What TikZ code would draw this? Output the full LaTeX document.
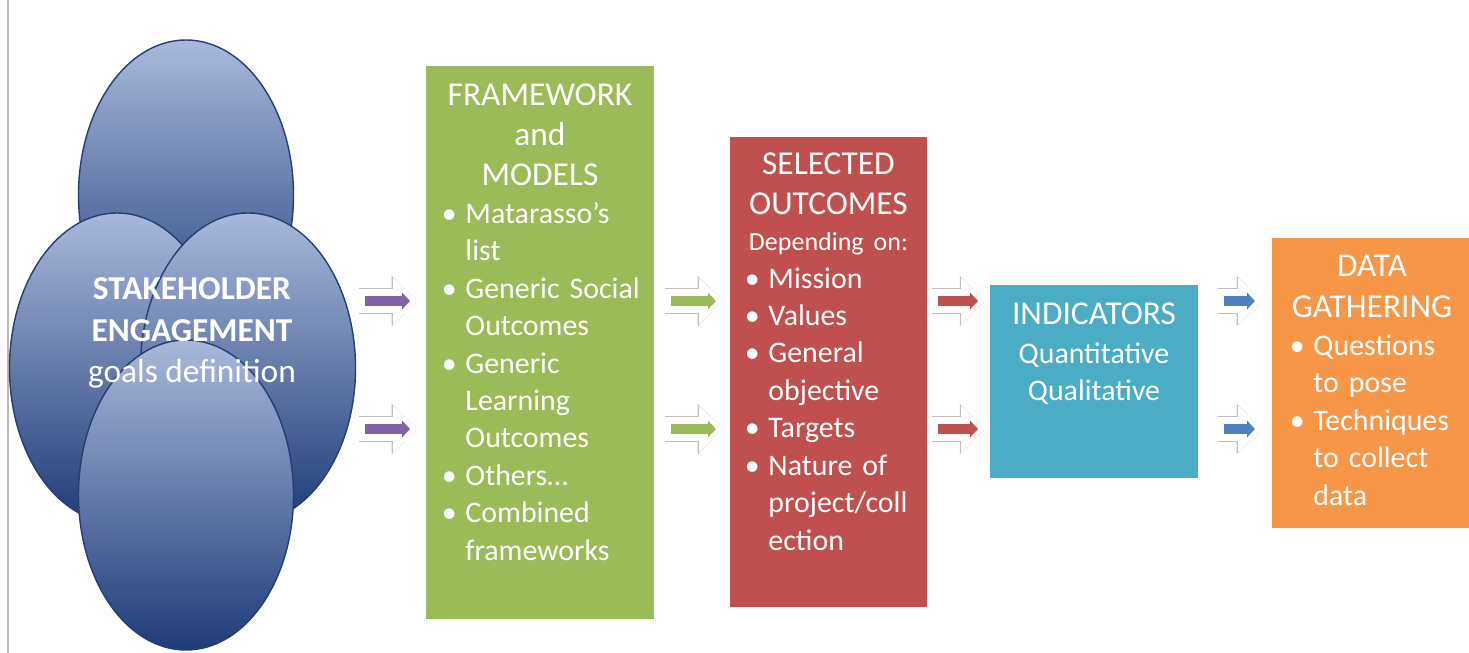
\documentclass[tikz,border=0pt]{standalone}
\usepackage{fontspec}
\setmainfont{Carlito}
\usepackage{tikz}
\usetikzlibrary{shapes,arrows,arrows.meta,positioning,shadows}

\definecolor{fwgreen}{HTML}{9BBB59}
\definecolor{sored}{HTML}{C0504D}
\definecolor{indblue}{HTML}{4BACC6}
\definecolor{dgorange}{HTML}{F79646}
\definecolor{arpurple}{HTML}{8064A2}
\definecolor{arblue}{HTML}{4F81BD}
\definecolor{blobtop}{HTML}{A9B8DC}
\definecolor{blobbot}{HTML}{1F3C78}
\definecolor{blobline}{HTML}{243F73}

% title size and bullet line with hanging indent
\newcommand{\ttl}{\fontsize{19}{23}\selectfont}
\newcommand{\bul}[1]{\par\noindent\hangindent=14.5pt\hangafter=1\makebox[14.5pt][l]{\hspace{1pt}\textbullet}{\let\\\newline #1}\par}

% block arrow: colour, start gap, end gap
\tikzset{blk/.style n args={3}{draw=#1, line width=5.7pt,
    shorten <=#2+3.4pt, shorten >=#3+4pt,
    -{Triangle[length=4.5pt,width=9.5pt,line width=0pt]},
    preaction={draw=gray!50, line width=15pt, shorten <=#2, shorten >=#3,
      -{Triangle[length=14.4pt,width=28.6pt,line width=0pt]}},
    preaction={draw=white, line width=13.6pt, shorten <=#2, shorten >=#3,
      -{Triangle[length=13.6pt,width=26.6pt,line width=0pt]}}}}

\begin{document}
\begin{tikzpicture}[x=0.2mm, y=-0.2mm, node distance=4mm, >=latex']
  \tikzstyle{blob} = [ellipse, draw=blobline, line width=0.8pt, top color=blobtop, bottom color=blobbot, minimum width=43mm, minimum height=62mm, inner sep=0pt]
  \tikzstyle{panel} = [draw=white, line width=3.4pt, outer sep=0pt, inner sep=0pt, drop shadow={shadow xshift=0.7pt, shadow yshift=-1pt, opacity=0.3}]
  \tikzstyle{txt} = [text=white, inner sep=0pt, font=\fontsize{17}{21.3}\selectfont]
  \tikzstyle{lst} = [txt, execute at begin node={\raggedright\hyphenpenalty=10000\hfuzz=20pt}]
  \useasboundingbox (0,0) rectangle (1469,653);
  \draw[gray!55, line width=0.8pt] (8,0) -- (8,653);

  % stakeholder ellipses
  \node[blob] (etop) at (186,195) {};
  \node[blob] (eleft) at (117,368) {};
  \node[blob] (eright) at (248,368) {};
  \node[blob] (ebot) at (186,495) {};
  \node[txt, align=center, font=\fontsize{19}{23.5}\selectfont] (stake) at (192,333)
    {\textbf{STAKEHOLDER}\\\textbf{ENGAGEMENT}\\goals definition};

  % panels
  \node[panel, fill=fwgreen, minimum width=46.8mm, minimum height=111.8mm] (fw) at (540,342.5) {};
  \node[panel, fill=sored, minimum width=40.6mm, minimum height=95.2mm] (so) at (828.5,372) {};
  \node[panel, fill=indblue, minimum width=42.8mm, minimum height=39.8mm] (ind) at (1094,381.5) {};
  \node[panel, fill=dgorange, minimum width=41.2mm, minimum height=59.2mm] (dg) at (1372,383) {};

  \node[lst, text width=40mm, below=of fw.north] (fwtext) {%
    {\centering\ttl FRAMEWORK\\ and\\ MODELS\par}
    \bul{Matarasso's\\list}
    \bul{Generic~Social\\Outcomes}
    \bul{Generic\\Learning\\Outcomes}
    \bul{Others…}
    \bul{Combined\\frameworks}};
  \node[lst, text width=34.2mm, below=3.6mm of so.north] (sotext) {%
    {\centering\ttl SELECTED\\ OUTCOMES\par}
    {\centering\fontsize{14.8}{20.6}\selectfont Depending on:\par}
    \bul{Mission}
    \bul{Values}
    \bul{General\\objective}
    \bul{Targets}
    \bul{Nature~of\\project/coll\\ection}};
  \node[txt, align=center, below=of ind.north] (indtext)
    {{\ttl INDICATORS}\\[1pt] Quantitative\\ Qualitative};
  \node[lst, text width=33.6mm, below=of dg.north] (dgtext) {%
    {\centering\ttl DATA\\ GATHERING\par}\vspace{0.5pt}
    \bul{Questions\\to pose}
    \bul{Techniques\\to collect\\data}};

  % block arrows
  \coordinate (r1) at (0,301);
  \coordinate (r2) at (0,429);
  \foreach \r in {r1,r2} {
    \draw[blk={arpurple}{1.7pt}{3.4pt}] (eright.east |- \r) -- (fw.west |- \r);
    \draw[blk={fwgreen}{4.5pt}{2.3pt}] (fw.east |- \r) -- (so.west |- \r);
    \draw[blk={sored}{1.1pt}{1.1pt}] (so.east |- \r) -- (ind.west |- \r);
    \draw[blk={arblue}{9.6pt}{4pt}] (ind.east |- \r) -- (dg.west |- \r);
  }
\end{tikzpicture}
\end{document}
